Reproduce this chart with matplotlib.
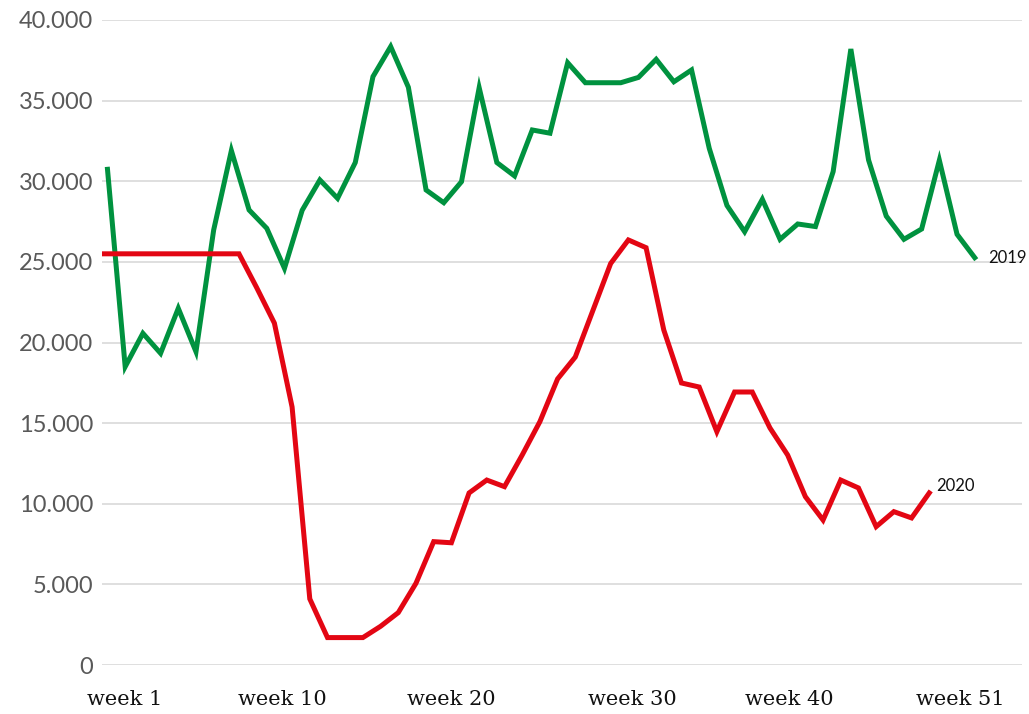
import matplotlib
matplotlib.use("Agg")
import matplotlib.pyplot as plt
import numpy as np

# weekly values
weeks_2019 = np.arange(1, 51)
values_2019 = [30740, 18500, 20570, 19330, 22120, 19430, 26980, 31900, 28220, 27080,
               24600, 28200, 30080, 28940, 31160, 36490, 38350, 35830, 29460, 28670,
               29970, 35800, 31160, 30330, 33180, 32980, 37350, 36110, 36110, 36110,
               36440, 37560, 36170, 36900, 32040, 28500, 26870, 28880, 26400, 27350,
               27190, 30600, 38200, 31320, 27840, 26400, 27040, 31300, 26710, 25260]

weeks_2020 = np.arange(1, 49)
values_2020 = [25500] * 9 + [23400, 21200, 16000, 4100, 1700, 1700, 1700, 2400, 3250,
               5070, 7650, 7580, 10670, 11470, 11060, 13020, 15090, 17740, 19100,
               22000, 24900, 26360, 25880, 20780, 17490, 17240, 14470, 16930, 16930,
               14700, 13020, 10440, 8990, 11470, 10980, 8580, 9510, 9120, 10670]

tick_pos = [1.99, 10.86, 20.41, 30.63, 39.53, 49.19]
tick_labels = ["week 1", "week 10", "week 20", "week 30", "week 40", "week 51"]
y_ticks = np.arange(0, 40001, 5000)

green = "#00923f"
red = "#e30613"
red_shift = -0.57  # the 2020 line sits a bit left of the 2019 points

fig = plt.figure(figsize=(10.29, 7.14), dpi=100)
ax = fig.add_axes([102 / 1029, 1 - 665 / 714, 920 / 1029, 645 / 714])

ax.plot(weeks_2019, values_2019, color=green, lw=3.6, solid_joinstyle="miter", zorder=3)
ax.plot(weeks_2020 + red_shift, values_2020, color=red, lw=3.6, solid_joinstyle="miter", zorder=3)

ax.set_xlim(0.69, 52.67)
ax.set_ylim(0, 40000)

ax.set_yticks(y_ticks)
ax.set_yticklabels([f"{v:,.0f}".replace(",", ".") for v in y_ticks],
                   fontfamily="Lato", fontsize=17, color="#595959")
ax.set_xticks(tick_pos)
ax.set_xticklabels(tick_labels, fontfamily="DejaVu Serif", fontsize=15, color="#111111")
ax.tick_params(axis="y", length=0, pad=6.5)
ax.tick_params(axis="x", length=0, pad=18)

ax.grid(axis="y", color="#d9d9d9", lw=1.2, zorder=0)
for s in ax.spines.values():
    s.set_visible(False)

ax.annotate("2019", xy=(weeks_2019[-1], values_2019[-1]), xytext=(13, 0),
            textcoords="offset pixels", va="center", ha="left",
            fontfamily="Lato", fontsize=12, color="#111111", annotation_clip=False)
ax.annotate("2020", xy=(weeks_2020[-1] + red_shift, values_2020[-1]), xytext=(7, 7),
            textcoords="offset pixels", va="center", ha="left",
            fontfamily="Lato", fontsize=12, color="#111111", annotation_clip=False)

fig.savefig("out.png", dpi=100)
